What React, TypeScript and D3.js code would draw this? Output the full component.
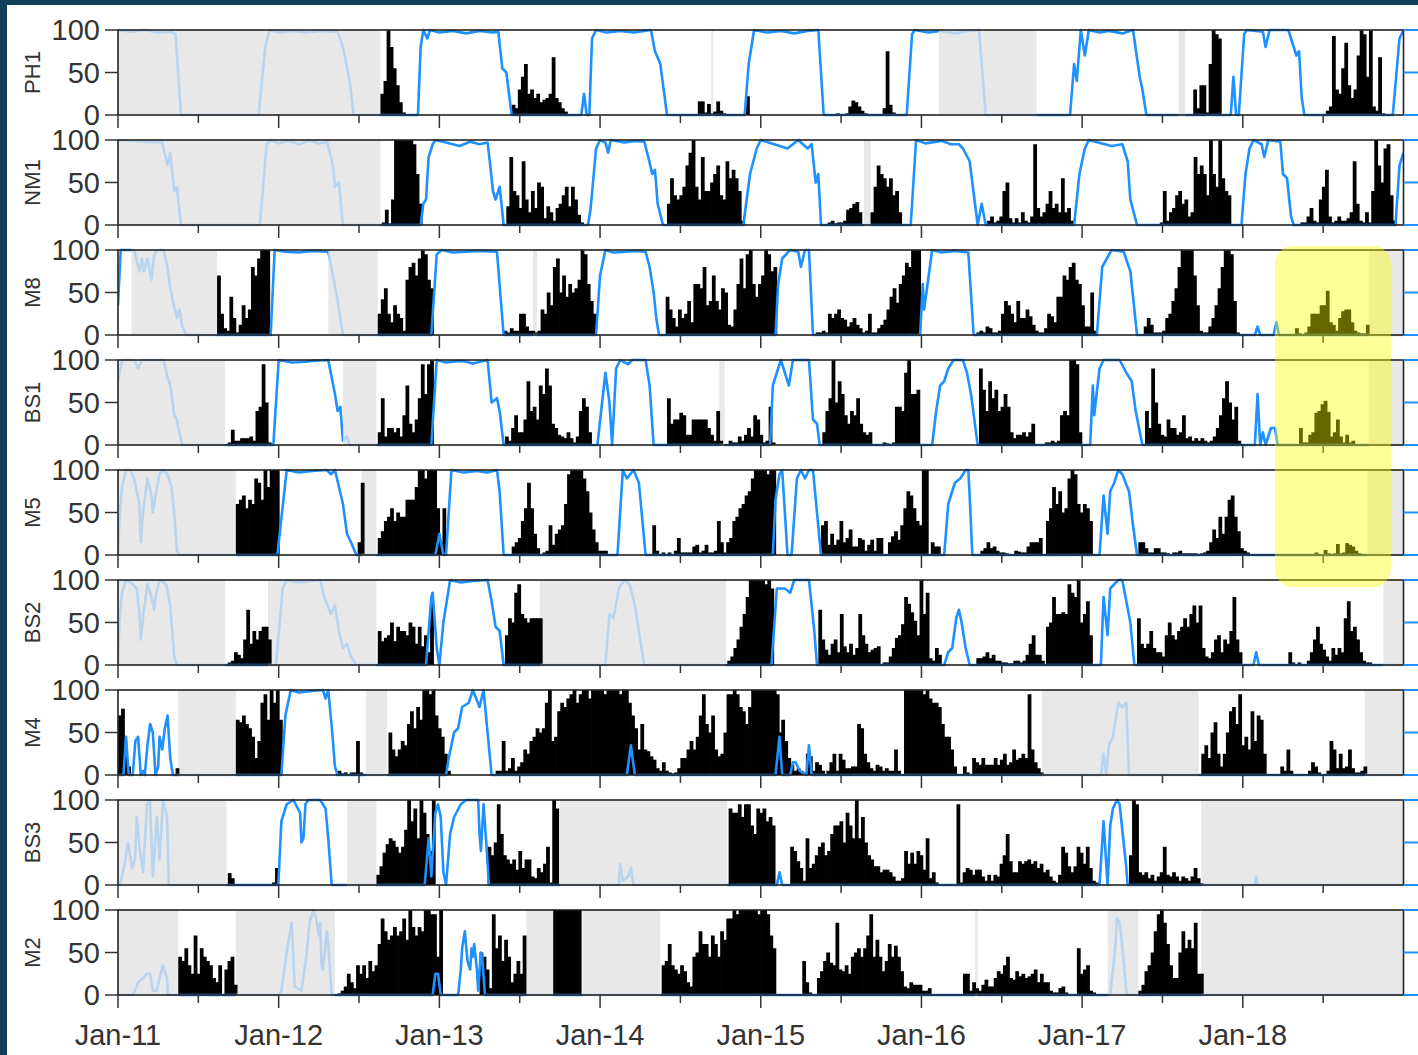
import React from "react";
import * as d3 from "d3";

// ---------- categories / labels ----------
const stations = ["PH1", "NM1", "M8", "BS1", "M5", "BS2", "M4", "BS3", "M2"];
const yearLabels = ["Jan-11", "Jan-12", "Jan-13", "Jan-14", "Jan-15", "Jan-16", "Jan-17", "Jan-18"];
const yTickValues = [0, 50, 100];
// time unit: months since Jan 2011 (0..96)

// ---------- no-data (grey) periods ----------
const grayPH1 = [[0, 19.6], [44.3, 44.45], [61.3, 68.6], [79.2, 79.7]];
const grayNM1 = [[0, 19.6], [55.7, 56.2]];
const grayM8 = [[1.0, 7.4], [15.7, 19.4], [31.0, 31.3], [93.4, 96]];
const grayBS1 = [[0, 8.0], [16.8, 19.3], [44.9, 45.3], [93.4, 96]];
const grayM5 = [[0, 8.8], [18.2, 19.3], [93.3, 96]];
const grayBS2 = [[0, 8.0], [11.2, 19.3], [31.5, 45.4], [94.5, 96]];
const grayM4 = [[4.5, 8.8], [18.5, 20.1], [69.0, 80.7], [93.1, 96]];
const grayBS3 = [[0, 8.1], [17.1, 19.3], [33.0, 45.5], [80.9, 96]];
const grayM2 = [[0, 4.5], [8.8, 16.2], [30.5, 32.5], [34.7, 40.5], [64.0, 64.2], [73.9, 76.2], [80.9, 96]];

// ---------- sea-ice concentration (month, %) ----------
const icePH1 = [[0,100],[1,98],[2,100],[3,97],[4,98],[4.3,95],[4.7,0],[10.5,0],[11.0,80],[11.3,100],[12,97],[13,99],[14,97],[15,99],[16,98],[16.4,98],[16.8,80],[17.3,40],[17.6,0],[22.4,0],[22.6,80],[22.8,100],[23.1,90],[23.3,100],[24,97],[25,99],[26,96],[27,99],[28,97],[28.4,98],[28.7,55],[29.0,50],[29.4,0],[34.6,0],[34.8,25],[35.0,0],[35.2,0],[35.4,90],[35.7,100],[36.5,97],[37.5,99],[38.5,97],[39.3,99],[39.8,100],[40.1,75],[40.5,60],[41.0,0],[46.8,0],[47.1,60],[47.5,100],[48.5,97],[49.5,99],[50.5,96],[51.5,99],[52.3,100],[52.7,0],[58.9,0],[59.3,95],[59.5,100],[60.5,97],[61.5,99],[62.5,96],[63.5,99],[64.3,100],[64.8,0],[71.1,0],[71.4,60],[71.6,40],[71.9,100],[72.2,70],[72.5,100],[73.3,97],[74,99],[75,96],[75.8,100],[76.3,45],[76.5,30],[76.8,0],[83.1,0],[83.3,45],[83.5,0],[83.7,0],[84.1,95],[84.3,100],[85.5,98],[85.7,80],[86.0,100],[87.4,100],[88.0,70],[88.2,75],[88.4,20],[88.6,0],[95.2,0],[95.7,90],[96,100]];
const iceNM1 = [[0,100],[2,98],[3.3,97],[3.7,70],[3.9,85],[4.2,40],[4.4,45],[4.7,0],[10.6,0],[11.1,95],[11.4,100],[12,96],[12.7,99],[13.5,95],[14.3,99],[15,96],[15.6,98],[15.9,80],[16.1,65],[16.2,45],[16.5,50],[16.8,0],[22.6,0],[22.8,25],[23.0,30],[23.2,80],[23.5,95],[23.7,100],[24.5,97],[25.5,93],[26.3,98],[27,95],[27.6,97],[27.8,70],[28.0,40],[28.2,30],[28.5,45],[28.8,0],[35.1,0],[35.3,20],[35.7,90],[36.0,100],[36.4,97],[36.6,85],[36.8,100],[37.8,97],[38.6,99],[39.3,98],[39.6,80],[39.9,60],[40.1,65],[40.3,25],[40.7,0],[46.7,0],[47.2,60],[47.7,90],[48,100],[49,95],[50,90],[50.8,100],[51.5,90],[51.8,95],[52.1,50],[52.3,60],[52.5,0],[59.2,0],[59.6,100],[60.3,96],[61.5,99],[62.2,95],[62.8,95],[63.1,90],[63.6,75],[64.0,25],[64.2,0],[64.5,25],[64.8,0],[71.4,0],[71.8,60],[72.2,90],[72.5,100],[73.2,97],[74.2,93],[75,95],[75.3,80],[75.4,75],[75.6,30],[76.1,0],[83.9,0],[84.2,60],[84.5,90],[84.8,100],[85.4,95],[85.6,80],[85.9,100],[86.8,98],[87.0,60],[87.3,55],[87.6,10],[87.8,0],[95.4,0],[95.7,70],[96,85]];
const iceM8 = [[0,35],[0.2,100],[1.2,100],[1.6,75],[1.8,90],[1.9,75],[2.2,90],[2.5,65],[2.7,95],[3.0,100],[3.4,100],[3.7,80],[3.9,55],[4.1,40],[4.4,20],[4.6,30],[4.8,10],[5.1,0],[11.4,0],[11.7,100],[12.5,98],[13.5,97],[14.5,99],[15.7,98],[16.0,75],[16.4,40],[16.8,0],[23.4,0],[23.8,95],[24.2,100],[25,97],[26,98],[27,99],[28.3,98],[28.8,0],[35.7,0],[36.0,70],[36.4,100],[37,97],[38,98],[38.5,99],[39.4,98],[39.7,80],[40.0,50],[40.2,20],[40.4,0],[49.1,0],[49.3,60],[49.6,90],[50.2,100],[50.8,98],[51.0,80],[51.3,100],[51.6,100],[51.9,0],[59.9,0],[60.1,60],[60.2,30],[60.8,100],[61.5,97],[62,98],[62.5,99],[63.5,97],[63.9,0],[73.1,0],[73.5,80],[74.2,100],[75.1,98],[75.6,75],[76.1,0],[84.9,0],[85.1,10],[85.3,0],[86.3,0],[86.5,15],[86.7,0],[96,0]];
const iceBS1 = [[0,75],[0.3,100],[1.2,100],[1.5,90],[1.8,100],[3.4,100],[3.7,80],[3.9,70],[4.0,60],[4.2,35],[4.4,30],[4.5,20],[4.8,0],[11.6,0],[12.0,100],[13,97],[14,98],[14.5,99],[15.7,100],[16.2,60],[16.4,40],[16.6,45],[16.8,5],[17.1,10],[17.3,0],[23.4,0],[23.8,100],[24.5,97],[25.5,99],[26,98],[26.5,96],[27.6,100],[27.9,50],[28.3,55],[28.5,40],[28.8,0],[35.8,0],[36.4,85],[36.7,50],[36.9,0],[37.2,90],[37.5,100],[38.1,95],[38.4,100],[39.4,100],[39.7,70],[40.0,0],[48.7,0],[48.9,70],[49.2,85],[49.5,100],[50.1,70],[50.4,100],[51.6,100],[51.9,30],[52.2,25],[52.4,0],[60.8,0],[61.1,40],[61.4,70],[61.7,75],[62.0,90],[62.4,100],[63.1,100],[63.4,85],[63.7,60],[64.2,0],[72.6,0],[72.8,70],[72.9,35],[73.3,90],[73.6,100],[74.8,100],[75.3,85],[75.7,75],[76.0,40],[76.5,0],[84.9,0],[85.1,60],[85.3,0],[85.5,15],[85.7,0],[86.1,20],[86.4,20],[86.6,0],[96,0]];
const iceM5 = [[0,0],[0.1,40],[0.3,80],[0.6,100],[0.9,100],[1.2,90],[1.6,60],[1.7,15],[1.9,55],[2.2,90],[2.5,70],[2.6,50],[2.8,70],[3.1,95],[3.4,100],[3.7,95],[4.0,80],[4.2,50],[4.4,5],[4.6,0],[11.9,0],[12.6,100],[13.5,97],[14.5,99],[15.6,100],[15.9,95],[16.2,100],[16.5,80],[16.8,60],[17.1,25],[17.4,15],[17.8,0],[23.7,0],[24.0,25],[24.3,0],[24.5,0],[24.9,100],[25.8,97],[26.8,99],[27.6,97],[28.3,100],[28.5,75],[28.8,0],[37.3,0],[37.7,100],[38.0,90],[38.5,100],[38.9,85],[39.4,0],[48.9,0],[49.1,65],[49.4,95],[49.6,100],[50.0,0],[50.3,0],[50.7,90],[51.0,100],[51.3,90],[51.6,100],[51.9,100],[52.2,50],[52.5,0],[61.7,0],[62.0,60],[62.5,85],[62.9,90],[63.3,100],[63.5,100],[63.6,70],[63.8,0],[73.3,0],[73.6,70],[73.9,25],[74.1,75],[74.4,85],[74.7,100],[75.0,95],[75.5,75],[75.8,35],[76.1,0],[96,0]];
const iceBS2 = [[0,0],[0.1,50],[0.3,85],[0.6,100],[1.1,95],[1.4,90],[1.6,60],[1.7,30],[1.9,60],[2.2,95],[2.5,80],[2.7,65],[2.8,80],[3.1,100],[3.6,95],[3.9,70],[4.2,10],[4.4,0],[11.8,0],[12.3,90],[12.6,100],[13.5,97],[14.3,99],[15.1,100],[15.4,80],[15.9,60],[16.2,70],[16.5,40],[16.8,20],[17.1,25],[17.4,10],[17.8,0],[23.0,0],[23.2,40],[23.4,80],[23.5,85],[23.8,20],[24.0,0],[24.3,50],[24.8,100],[25.6,97],[26.5,99],[27.6,100],[27.9,75],[28.2,45],[28.5,40],[28.8,0],[36.4,0],[36.7,60],[37.0,55],[37.4,90],[37.8,100],[38.2,95],[38.6,70],[39.0,30],[39.3,0],[48.8,0],[49.2,90],[49.8,90],[50.2,85],[50.5,100],[51.6,100],[52.0,40],[52.2,0],[61.7,0],[62.0,15],[62.3,20],[62.6,55],[62.8,65],[63.0,50],[63.3,20],[63.6,0],[73.4,0],[73.6,80],[73.9,35],[74.1,90],[74.4,95],[74.7,100],[75.0,100],[75.3,75],[75.6,50],[75.9,0],[84.8,0],[85.0,15],[85.2,0],[96,0]];
const iceM4 = [[0,0],[0.4,0],[0.6,45],[0.8,0],[1.1,0],[1.3,40],[1.5,45],[1.7,0],[1.9,5],[2.0,0],[2.2,35],[2.4,60],[2.6,50],[2.8,0],[3.0,10],[3.1,45],[3.3,30],[3.5,55],[3.7,70],[3.9,20],[4.1,0],[12.2,0],[12.5,70],[12.9,100],[13.5,97],[14,98],[14.5,99],[15.3,100],[15.5,90],[15.7,100],[16.0,50],[16.2,10],[16.4,0],[24.5,0],[24.7,20],[25.1,50],[25.4,55],[25.7,80],[26.2,85],[26.5,100],[27.0,80],[27.3,100],[27.6,50],[27.9,0],[38.0,0],[38.3,35],[38.6,0],[49.1,0],[49.4,45],[49.6,0],[50.2,0],[50.4,15],[50.6,15],[50.9,5],[51.4,0],[51.6,35],[51.8,0],[73.4,0],[73.6,25],[73.8,0],[74.0,35],[74.3,45],[74.7,85],[75.0,80],[75.3,85],[75.5,0],[96,0]];
const iceBS3 = [[0,0],[0.15,0],[0.5,25],[0.75,50],[1.05,20],[1.27,30],[1.4,80],[1.64,40],[1.87,15],[2.17,95],[2.39,100],[2.6,10],[2.9,80],[3.1,30],[3.36,100],[3.66,80],[3.8,0],[11.97,0],[12.2,75],[12.6,95],[13.1,100],[13.6,85],[13.7,50],[13.85,55],[14.0,95],[14.2,100],[15.1,100],[15.5,90],[15.7,55],[15.96,0],[22.9,0],[23.2,55],[23.4,10],[23.7,85],[23.9,95],[24.1,80],[24.3,15],[24.5,0],[24.8,60],[25.1,80],[25.6,95],[26.0,100],[26.9,100],[27.0,60],[27.1,40],[27.3,95],[27.5,50],[27.7,0],[37.4,0],[37.5,25],[37.7,5],[38.1,10],[38.3,20],[38.5,0],[49.2,0],[49.4,15],[49.6,0],[73.3,0],[73.6,75],[73.9,0],[74.1,70],[74.3,90],[74.6,100],[74.8,95],[75.1,50],[75.3,20],[75.4,0],[84.9,0],[85.0,10],[85.1,0],[96,0]];
const iceM2 = [[0,0],[1.1,0],[1.27,5],[1.5,15],[1.87,20],[2.17,25],[2.39,25],[2.6,5],[2.9,5],[3.1,20],[3.36,35],[3.66,20],[3.73,0],[12.0,0],[12.2,5],[12.6,50],[12.97,85],[13.2,10],[13.7,5],[14.1,50],[14.3,85],[14.6,100],[14.8,90],[15.0,70],[15.1,85],[15.2,35],[15.3,30],[15.6,75],[15.7,60],[15.96,0],[23.5,0],[23.7,25],[23.9,25],[24.1,0],[25.4,0],[25.6,30],[25.7,55],[25.9,75],[26.1,40],[26.3,30],[26.4,55],[26.5,45],[26.6,60],[26.8,30],[26.9,5],[27.1,50],[27.2,45],[27.4,0],[74.1,0],[74.5,60],[74.6,90],[74.8,85],[75.1,40],[75.3,5],[75.4,0],[96,0]];

// ---------- weekly acoustic detections (% of days): [start month, weekly values] ----------
const barsPH1 = [
  [19.6, [25,40,100,80,55,35,15,3]],
  [29.4, [12,8,30,45,60,25,30,20,25,15,18,20,25,68,20,15,8,4]],
  [43.3, [16,16,3,13,2,4,16,5,2,1]],
  [46.9, [22]],
  [52.7, [1,1,1,1,2,1,1,2,10,17,15,10,5,2]],
  [57.1, [8,75,12,3]],
  [80.3, [30,8,35,35,3,60,100,95,90]],
  [90.2, [5,10,93,30,25,55,85,35,20,30,70,100,95,45,100,10,5,68,2]],
];
const barsNM1 = [
  [19.7, [3,18,2,30,100,100,100,100,100,100,95,60,25]],
  [29.0, [22,80,40,35,20,75,30,15,40,20,50,45,8,22,15,5,20,25,35,45,22,45,30,12,3]],
  [41.0, [25,55,35,30,35,45,70,85,100,45,30,80,40,40,50,60,70,35,30,75,55,65,55,40,5]],
  [53.0, [3,5,2,3,3,5,18,20,25,27,15]],
  [56.2, [15,45,70,60,55,45,55,35,40,15]],
  [64.9, [5,10,3,5,10,40,50,8,3,8,3,15,5,3,10,95,20,10,15,25,40,20,25,15,55,15,20,5]],
  [77.8, [3,40,5,15,20,35,40,25,30,10,15,80,60,70,60,35,100,60,45,100,55,40,35]],
  [88.3, [3,3,10,20,5,3,30,45,65,10,3,5,10,5,5,8,15,75,25,5,3,15,3,40,100,70,50,90,95,35,5]],
];
const barsM8 = [
  [7.4, [70,25,8,5,45,20,3,12,35,20,30,80,70,90,100,100,100]],
  [19.4, [25,42,55,25,15,35,25,20,5,65,80,85,70,90,100,95,65,55]],
  [28.8, [5,3,8,5,5,25,25,10,5,5,3,5,30,25,50,35,80,90,50,70,45,60,50,55,65,100,95,60,40,25]],
  [40.9, [45,30,20,10,30,20,25,40,15,60,60,55,80,35,40,70,40,30,55,50,12,10,30,60,90,55,95,100,60,45,60,70,100,95,75,80]],
  [52.1, [3,3,5,3,25,20,25,30,20,18,10,15,20,12,8,3,5,25,3,3,8,12,18,30,45,55,38,60,70,85,80,100,100,100]],
  [64.1, [3,5,3,10,8,3,3,5,25,40,35,25,15,40,20,20,30,22,12,5,3,3,8,25,22,15,45,45,70,65,80,85,65,60,35,10,10,50,5]],
  [76.6, [10,20,12,3,3,3,5,20,25,40,55,80,100,100,100,100,70,35,5,3,3,10,20,35,55,80,100,100,95,40,3]],
  [87.9, [8,2,1,3,10,25,25,25,35,35,52,15,12,5,20,28,30,30,15,5,3,2,2,12]],
];
const barsBS1 = [
  [8.2, [3,18,5,5,8,8,8,10,5,40,45,95,50,3]],
  [19.4, [15,55,10,20,20,15,20,10,35,70,25,15,30,55,95,60,95,100]],
  [28.9, [10,5,20,35,15,15,30,75,40,45,30,70,60,90,70,25,20,12,10,8,15,8,3,10,40,55,45,15]],
  [41.0, [55,25,30,30,38,35,12,12,30,30,30,30,30,20,12,5,40,5,0,0,5,3,3,10,5,12,20,10,35,30,12,3,5,45,3]],
  [52.6, [15,40,55,100,50,75,60,35,25,40,35,55,25,15,12,15]],
  [57.1, [3,2,0,3,45,45,40,85,100,60,60,65]],
  [64.3, [90,65,40,75,55,65,40,45,60,45,15,8,12,12,15,10,15,25]],
  [69.2, [3,3,5,3,5,35,40,35,100,100,95,15]],
  [76.7, [40,20,90,50,25,12,10,30,20,20,12,15,35,8,10,5,8,5,8,5,3,5,10,20,35,55,75,50,30,45,5]],
  [88.2, [20,3,3,12,15,38,40,48,52,39,10,15,30,10,3,12,3,5,1]],
];
const barsM5 = [
  [8.8, [60,65,70,55,65,60,90,85,65,100,80,100,100,100]],
  [17.9, [15,85]],
  [19.4, [20,28,40,45,55,40,50,45,45,65,65,65,80,100,100,90,100,100,100,55,15,55]],
  [29.4, [10,15,20,40,55,85,55,25,8,0,3,5,35,12,25,30,35,60,95,100,100,100,100,90,75,50,30,15,5,5,5]],
  [39.9, [35,5,0,3,0,3,0,5,20,3,3,3,3,10,12,3,5,12,3,3,5,40,15,3,15,20,40,45,55,60,70,75,90,100,100,100,100,95,100,100]],
  [52.5, [35,40,12,25,12,18,40,15,20,30,10,10,20,18,5,12,18,5,20,20]],
  [57.5, [15,22,28,18,35,55,75,70,55,40,35,100,100]],
  [60.7, [15,10,10]],
  [64.4, [5,8,15,8,10,5,3,3,2,0,0,5,4,3,3,10,15,15,15,20]],
  [69.3, [40,55,80,60,75,50,55,90,100,95,60,50,60,55,40]],
  [76.2, [15,15,8,3,3,8,8,3,3,2,0,3,3,5,2,2,2,2,2,1,2,3,5,15,30,20,45,25,45,65,70,45,28,8,5,3]],
  [88.2, [1,1,1,0,1,3,1,1,6,2,1,2,13,2,3,14,12,10,5,2,1]],
];
const barsBS2 = [
  [8.2, [3,5,15,12,8,30,65,25,40,30,40,45,45,30]],
  [19.4, [40,28,32,35,50,28,45,40,40,35,50,45,25,45,22,35,15,75]],
  [28.9, [35,55,50,85,95,60,55,50,55,55,55,55]],
  [45.5, [5,10,20,30,45,60,80,100,100,100,100,100,95,100,90]],
  [52.3, [65,30,18,12,25,30,15,60,22,15,25,12,20,60,35,25,15,18,20,22]],
  [57.1, [3,3,10,20,32,35,48,80,72,62,52,35,100,60,85,8,5,20,12]],
  [64.1, [8,8,10,15,8,12,5,5,3,3,2,2,5,5,3,5,12,25,35,12,12,5]],
  [69.3, [45,50,80,60,60,62,60,95,85,80,100,50,60,75,35]],
  [76.1, [55,25,20,25,40,20,15,15,10,35,50,35,30,40,45,55,45,60,70,50,70,20,10,8,15,30,35,15,30,25,40,80,30,15]],
  [87.4, [15,3,1,3,1,1,5,15,30,45,25,18,10,5,20,12,20,15,55,75,40,45,30,15,5,3,3]],
];
const barsM4 = [
  [0.0, [70,78,30,10]],
  [4.3, [8]],
  [8.8, [65,62,70,60,55,45,20,40,85,95,65,100,85,100,65]],
  [16.4, [5,2,3,1,3,3,40,3]],
  [20.2, [50,30,22,30,40,35,60,75,55,80,65,100,100,95,100,70,55,45,25,5]],
  [28.2, [5,5,40,5,8,20,5,10,15,30,25,40,45,55,50,55,85,100,40,45,75,85,80,90,95,100,85,95,100,100,90,100,100,100,100,95,100,100,100,100,95,100,100,85,70,55,30,60,30,28,22,18,8,5,15,5,3,2,3,8,20,20,30,40,30,45,70,95,60,50,70,30,22,25,50,95,95,100,95,80,75,60,80,100,100,100,100,100,100,100,100,95,50]],
  [49.3, [45,65,40,20,12,5,8,5,3,25,22,5,15,12,5]],
  [52.9, [5,15,25,5,25,18,8,8,10,10,60,55,25,15,8,5,12,10,5,8,5,5,30,5]],
  [58.7, [100,100,100,100,100,100,95,100,90,85,85,80,60,45,45,30,10]],
  [63.1, [10,3,1,20,15,12,20,12,12,12,20,12,18,25,12,15,30,18,20,25,20,95,30,15,8,3]],
  [80.9, [25,35,20,50,62,25,10,25,50,75,80,60,95,35,45,30,75,40,70,65,25]],
  [86.8, [10,5,30,5,1,1,1,1,1,5,15,10,3,1,1,5,40,30,8,25,8,10,30,8,3,3,5,10]],
];
const barsBS3 = [
  [8.2, [14,8]],
  [11.5, [3,20]],
  [19.3, [12,22,38,48,55,52,45,38,45,65,100,75,90,55,100,85,60,40,100]],
  [27.6, [45,35,50,95,60,35,30,25,30,18,40,20,30,30,10,8,20,15,25,45,3,100,90]],
  [45.6, [90,85,85,95,80,95,95,70,60,90,85,90,75,80,70]],
  [50.2, [45,40,28,20,5,55,20,25,35,45,50,35,40,60,70,70,75,50,85,70,55,100,55,80,50,35,30,22,22,15,18,18,15,10,5,5,8,40,25,38,25,40,35,18,55,8,15,3,0,0,1,0,0,1,95,3,15,20,18,12,18,18,10,5,12,5,12,10,25,35,60,28,15,15,28,25,28,30,25,28,20,25,15,18,10,5,3,12,45,38,22,15,22,45,38,25,45,20,5,3]],
  [75.5, [35,100,95,15,12,15,8,12,5,10,15,45,12,10,15,10,5,10,8,5,10,20,8,2]],
];
const barsM2 = [
  [4.5, [45,40,55,35,25,70,25,55,45,40,35,20,15,35,0,30,40,45,12]],
  [16.4, [2,5,10,25,15,8,35,25,35,20,40,28,35,60,90,75,65,70,80,70,75,90,65,100,80,70,80,75,100,100,95,95,45,100]],
  [27.0, [50,45,30,8,95,55,70,40,65,45,15,25,40,25,70]],
  [32.5, [100,100,100,100,100,100,100,100,100]],
  [40.6, [35,40,60,35,30,25,35,28,15,10,45,50,75,60,60,45,70,60,45,75,65,90,90,100,95,100,100,100,100,100,100,95,100,100,95,70,55]],
  [51.1, [40,15,3]],
  [52.2, [20,28,40,50,38,35,85,30,28,35,25,45,50,55,45,55,70,95,45,65,45,28,40,60,45,58,45,28,10,8,15,12,12,12,5,5,8]],
  [63.1, [25,25,5,15,8,5,12,18,10,10,20,28,25,35,45,20,18,28,22,25,20,22,25,30,15,25,15,15,5,3,3,8,10,3,1,1,1,55,25,30,35,5,3,1,1,1,1]],
  [76.2, [5,12,28,35,50,75,95,100,85,60,35,20,20,50,75,55,65,55,85,25,25]],
];

const grayList = [grayPH1, grayNM1, grayM8, grayBS1, grayM5, grayBS2, grayM4, grayBS3, grayM2];
const iceList = [icePH1, iceNM1, iceM8, iceBS1, iceM5, iceBS2, iceM4, iceBS3, iceM2];
const barsList = [barsPH1, barsNM1, barsM8, barsBS1, barsM5, barsBS2, barsM4, barsBS3, barsM2];

const WEEK = 12 / 52.18;
const FONT = "Liberation Sans, Arial, Helvetica, sans-serif";

export default function App() {
  const width = 1418, height = 1055;
  const x = d3.scaleLinear().domain([0, 96]).range([118, 1403.5]);
  const panelTop = (i: number) => 30 + i * 110;
  const panelH = 85;
  const halfYearTicks = d3.range(0, 96, 6);

  return (
    <svg width={width} height={height} style={{ position: "absolute", left: 0, top: 0, background: "#fff" }}>
      <rect x={0} y={0} width={width} height={height} fill="#ffffff" />
      <defs>
        {stations.map((s, i) => {
          const top = panelTop(i);
          const gray = grayList[i];
          const dataIntervals: number[][] = [];
          let cur = 0;
          gray.forEach(([a, b]) => {
            if (a > cur) dataIntervals.push([cur, a]);
            cur = Math.max(cur, b);
          });
          if (cur < 96) dataIntervals.push([cur, 96]);
          return (
            <React.Fragment key={s}>
              <clipPath id={`clipPanel${i}`}>
                <rect x={x(0)} y={top - 2} width={x(96) - x(0)} height={panelH + 4} />
              </clipPath>
              <clipPath id={`clipGray${i}`}>
                {gray.map(([a, b], k) => (
                  <rect key={k} x={x(a)} y={top - 3} width={x(b) - x(a)} height={panelH + 6} />
                ))}
              </clipPath>
              <clipPath id={`clipData${i}`}>
                {dataIntervals.map(([a, b], k) => (
                  <rect key={k} x={x(a)} y={top - 3} width={x(b) - x(a)} height={panelH + 6} />
                ))}
              </clipPath>
            </React.Fragment>
          );
        })}
      </defs>

      {stations.map((s, i) => {
        const top = panelTop(i);
        const bottom = top + panelH;
        const y = d3.scaleLinear().domain([0, 100]).range([bottom, top]);
        const line = d3
          .line<number[]>()
          .x((d) => x(d[0]))
          .y((d) => y(d[1]));
        const iceSorted = [...(iceList[i] as number[][])].sort((a, b) => a[0] - b[0]);
        const icePath = line(iceSorted) || "";
        const bars: { t: number; v: number }[] = [];
        (barsList[i] as any[]).forEach(([start, vals]: [number, number[]]) => {
          vals.forEach((v, k) => bars.push({ t: start + k * WEEK, v }));
        });
        return (
          <g key={s}>
            <g clipPath={`url(#clipPanel${i})`}>
              {grayList[i].map(([a, b], k) => (
                <rect key={k} x={x(a)} y={top} width={x(b) - x(a)} height={panelH} fill="#e8e8e8" />
              ))}
              {bars.map((d, k) => (
                <rect
                  key={k}
                  x={x(d.t)}
                  y={y(d.v)}
                  width={x(d.t + WEEK) - x(d.t) + 0.7}
                  height={bottom - y(d.v)}
                  fill="#000"
                />
              ))}
            </g>
            <g clipPath={`url(#clipPanel${i})`}>
              <path d={icePath} fill="none" stroke="#b9d4ee" strokeWidth={2.6} strokeLinejoin="round" clipPath={`url(#clipGray${i})`} />
              <path d={icePath} fill="none" stroke="#1e90ff" strokeWidth={2.6} strokeLinejoin="round" clipPath={`url(#clipData${i})`} />
            </g>
            <rect x={x(0)} y={top} width={x(96) - x(0)} height={panelH} fill="none" stroke="#222" strokeWidth={1.6} />
            {yTickValues.map((v) => (
              <g key={v}>
                <line x1={105} x2={x(0)} y1={y(v)} y2={y(v)} stroke="#333" strokeWidth={1.5} />
                <text x={100} y={y(v)} dy="0.36em" textAnchor="end" fontSize={29} fontFamily={FONT} fill="#333">
                  {v}
                </text>
                <line x1={x(96)} x2={1418} y1={y(v)} y2={y(v)} stroke="#1e90ff" strokeWidth={2} />
              </g>
            ))}
            {halfYearTicks.map((t) => (
              <line key={t} x1={x(t)} x2={x(t)} y1={bottom} y2={bottom + (t % 12 === 0 ? 13 : 8)} stroke="#333" strokeWidth={1.5} />
            ))}
            <text
              transform={`translate(40,${top + panelH / 2}) rotate(-90)`}
              textAnchor="middle"
              fontSize={22}
              fontFamily={FONT}
              fill="#333"
            >
              {s}
            </text>
          </g>
        );
      })}

      {yearLabels.map((lab, k) => (
        <text key={lab} x={x(k * 12)} y={1045} textAnchor="middle" fontSize={29} fontFamily={FONT} fill="#333">
          {lab}
        </text>
      ))}

      <rect x={1275} y={246} width={116} height={341} rx={18} ry={18} fill="#ffff00" opacity={0.4} />

      <rect x={0} y={0} width={width} height={5} fill="#133f57" />
      <rect x={0} y={0} width={7} height={height} fill="#133f57" />
    </svg>
  );
}
